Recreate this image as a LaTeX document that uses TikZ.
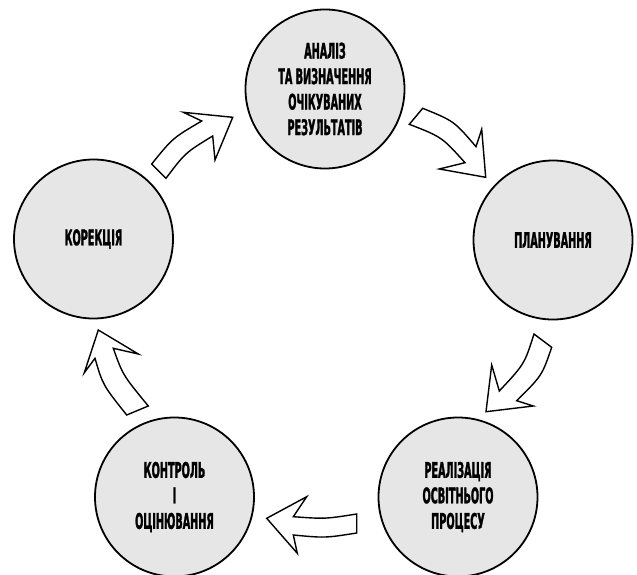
\documentclass[tikz,border=0pt]{standalone}
\usepackage{fontspec}
\setmainfont{DejaVu Sans Condensed}[FakeStretch=0.5, FakeBold=1.3]
\definecolor{circfill}{RGB}{230,230,230}
\begin{document}
\begin{tikzpicture}[x=1pt,y=-1pt,
  stage/.style={circle, draw=black, line width=1.8pt, fill=circfill, minimum size=159pt,
    inner sep=0pt, align=center, font=\fontsize{21.5}{25.5}\selectfont\bfseries},
  blockarrow/.style={draw=black, line width=1.4pt, fill=white, line join=miter}]
\useasboundingbox (0,0) rectangle (637,575);
\node[stage] (analiz) at (325,89) {АНАЛІЗ\\ТА ВИЗНАЧЕННЯ\\ОЧІКУВАНИХ\\РЕЗУЛЬТАТІВ};
\node[stage] (plan) at (553,240) {ПЛАНУВАННЯ};
\node[stage] (real) at (458,497) {РЕАЛІЗАЦІЯ\\ОСВІТНЬОГО\\ПРОЦЕСУ};
\node[stage] (kontrol) at (174.5,497) {КОНТРОЛЬ\\І\\ОЦІНЮВАННЯ};
\node[stage] (korek) at (93.5,239) {КОРЕКЦІЯ};
% block arrows
\draw[blockarrow] (151.7,164) .. controls (172.6,138.1) .. (201.7,121) -- (183.3,112.3) -- (232.7,117.3) -- (215,160) -- (212.7,136) .. controls (185.2,152.8) .. (166,178.3) -- cycle;
\draw[blockarrow] (422.7,108.3) .. controls (454,121) .. (476,146.7) -- (481.7,129.3) -- (485.7,177.3) -- (439.3,169) -- (465,162.7) .. controls (441.9,137) .. (409.3,124.3) -- cycle;
\draw[blockarrow] (551.7,347.3) .. controls (542,375.6) .. (516.7,400.7) -- (533.3,406) -- (486,411.7) -- (491.7,365) -- (499.3,391) .. controls (524.5,364) .. (534,334) -- cycle;
\draw[blockarrow] (356.7,533) .. controls (325,538) .. (293.3,535) -- (297.3,553.3) -- (266.7,518.3) -- (306.7,496.7) -- (293.3,516.7) .. controls (325,519) .. (356.7,514) -- cycle;
\draw[blockarrow] (126.7,415) .. controls (102.8,385) .. (95,358.3) -- (84.3,372.7) -- (98.3,330) -- (138.3,354) -- (113.3,348.3) .. controls (122.8,375) .. (148.3,406) -- cycle;
\end{tikzpicture}
\end{document}
